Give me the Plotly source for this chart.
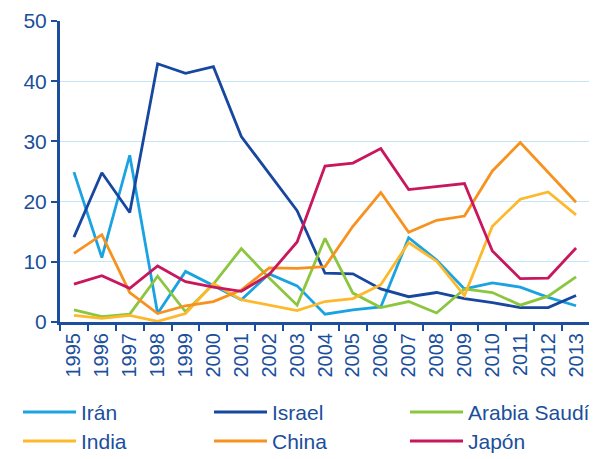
import plotly.graph_objects as go

years = [str(y) for y in range(1995, 2014)]
iran = [24.9, 10.7, 27.7, 1.4, 8.4, 6.0, 3.7, 8.0, 6.0, 1.3, 2.0, 2.5, 14.0, 10.3, 5.5, 6.5, 5.8, 4.1, 2.7]
israel = [14.1, 24.8, 18.2, 42.9, 41.3, 42.4, 30.8, 24.7, 18.5, 8.1, 8.0, 5.5, 4.2, 4.9, 3.9, 3.2, 2.4, 2.4, 4.4]
saudi = [2.0, 0.9, 1.3, 7.6, 1.7, 6.3, 12.2, 7.3, 2.8, 13.9, 4.8, 2.4, 3.4, 1.5, 5.5, 4.9, 2.8, 4.3, 7.5]
india = [1.1, 0.6, 1.1, 0.1, 1.4, 6.4, 3.7, 2.8, 1.9, 3.4, 3.9, 6.2, 13.2, 10.1, 4.4, 15.9, 20.4, 21.6, 17.8]
china = [11.4, 14.5, 4.9, 1.4, 2.7, 3.4, 5.3, 9.0, 8.9, 9.2, 15.9, 21.5, 14.9, 16.9, 17.6, 25.1, 29.8, 24.8, 19.9]
japon = [6.3, 7.7, 5.6, 9.3, 6.7, 5.8, 5.1, 7.9, 13.3, 25.9, 26.4, 28.8, 22.0, 22.5, 23.0, 11.8, 7.2, 7.3, 12.3]

names = ["Irán", "Israel", "Arabia Saudí", "India", "China", "Japón"]
series = [iran, israel, saudi, india, china, japon]
colors = ["#1aa3e0", "#17479e", "#8cc63e", "#fdb92b", "#f7921e", "#c8175d"]

axis_color = "#1b4f9c"
OFF = 8  # page body margin
W, H = 597 - OFF, 459 - OFF
ML, MR, MT, MB = 60 - OFF, 7, 21 - OFF, 137
PW, PH = W - ML - MR, H - MT - MB

fig = go.Figure()
for n, s, c in zip(names, series, colors):
    fig.add_trace(go.Scatter(x=years, y=s, name=n, mode="lines",
                             line=dict(color=c, width=2.8), showlegend=False))

# manual legend (3 columns x 2 rows), positions in page pixels
col_x = [23, 214, 410]
row_y = [412, 441]
shapes = []
annotations = []
for i, (n, c) in enumerate(zip(names, colors)):
    cx = col_x[i % 3] - OFF
    ry = row_y[i // 3] - OFF
    x0 = (cx - ML) / PW
    x1 = (cx + 53 - ML) / PW
    yy = (H - MB - ry) / PH
    shapes.append(dict(type="line", xref="paper", yref="paper", x0=x0, x1=x1, y0=yy, y1=yy,
                       line=dict(color=c, width=3)))
    annotations.append(dict(text=n, xref="paper", yref="paper", x=(cx + 56 - ML) / PW, y=yy,
                            xanchor="left", yanchor="middle", showarrow=False,
                            font=dict(size=21, color=axis_color)))

fig.update_layout(
    width=W, height=H,
    margin=dict(l=ML, r=MR, t=MT, b=MB, autoexpand=False),
    paper_bgcolor="white", plot_bgcolor="white",
    font=dict(family="Liberation Sans, Arial, sans-serif", color=axis_color, size=20),
    showlegend=False,
    shapes=shapes, annotations=annotations,
)
fig.update_xaxes(
    type="category", range=[-0.5, 18.5], showgrid=False,
    showline=True, linecolor=axis_color, linewidth=3,
    ticks="outside", tickson="boundaries", ticklen=6, tickwidth=2, tickcolor=axis_color,
    tickangle=-90, tickfont=dict(size=20, color=axis_color),
)
fig.update_yaxes(
    range=[0, 50], dtick=10, showgrid=True, gridcolor="#c5e6f7", gridwidth=1,
    showline=True, linecolor=axis_color, linewidth=3,
    ticks="outside", ticklen=6, tickwidth=2, tickcolor=axis_color,
    tickfont=dict(size=21, color=axis_color), zeroline=False,
)

fig.write_html("out.html")
